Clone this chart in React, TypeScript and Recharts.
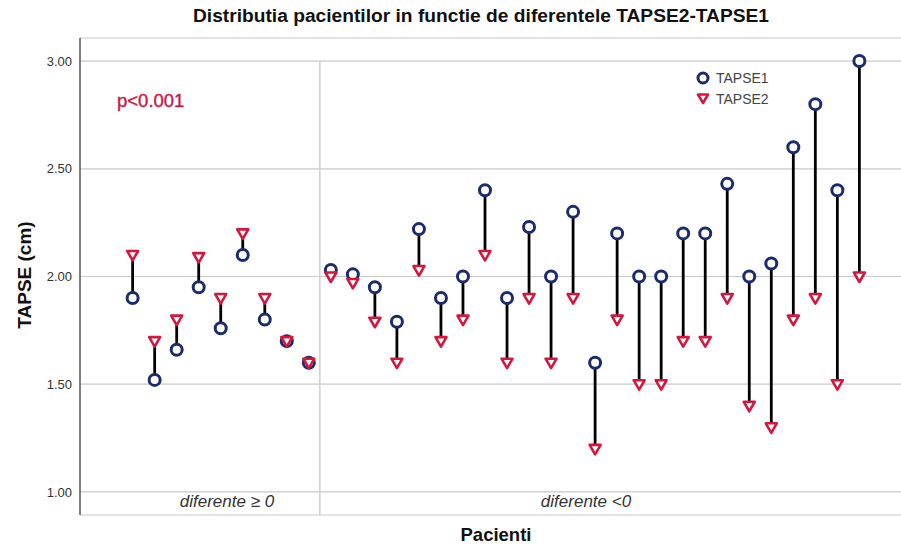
import React from 'react';
import {
    ComposedChart, Scatter, ErrorBar, XAxis, YAxis, CartesianGrid, ReferenceLine,
} from 'recharts';

// patient index (1..34), first 9 have TAPSE2 >= TAPSE1
const patients = [
    1, 2, 3, 4, 5, 6, 7, 8, 9, 10, 11, 12, 13, 14, 15, 16, 17,
    18, 19, 20, 21, 22, 23, 24, 25, 26, 27, 28, 29, 30, 31, 32, 33, 34,
];
const tapse1 = [
    1.90, 1.52, 1.66, 1.95, 1.76, 2.10, 1.80, 1.70, 1.60,
    2.03, 2.01, 1.95, 1.79, 2.22, 1.90, 2.00, 2.40, 1.90, 2.23, 2.00, 2.30, 1.60,
    2.20, 2.00, 2.00, 2.20, 2.20, 2.43, 2.00, 2.06, 2.60, 2.80, 2.40, 3.00,
];
const tapse2 = [
    2.10, 1.70, 1.80, 2.09, 1.90, 2.20, 1.90, 1.70, 1.60,
    2.00, 1.97, 1.79, 1.60, 2.03, 1.70, 1.80, 2.10, 1.60, 1.90, 1.60, 1.90, 1.20,
    1.80, 1.50, 1.50, 1.70, 1.70, 1.90, 1.40, 1.30, 1.80, 1.90, 1.50, 2.00,
];
const yTicks = [1.0, 1.5, 2.0, 2.5, 3.0];
const groupSplit = 9.5;

const NAVY = '#1c2b6b';
const RED = '#d3173f';
const FONT = '"Liberation Sans", Arial, sans-serif';

const t1Data = patients.map((p, i) => {
    const d = tapse2[i] - tapse1[i];
    return { x: p, y: tapse1[i], err: d >= 0 ? [0, d] : [-d, 0] };
});
const t2Data = patients.map((p, i) => ({ x: p, y: tapse2[i] }));

const Ring = (props: any) => {
    const { cx, cy } = props;
    if (cx == null || cy == null) return <g />;
    return <circle cx={cx} cy={cy} r={5.5} fill="#fff" stroke={NAVY} strokeWidth={3} />;
};

const DownTri = (props: any) => {
    const { cx, cy } = props;
    if (cx == null || cy == null) return <g />;
    return (
        <polygon
            points={`${cx - 5.5},${cy - 4} ${cx + 5.5},${cy - 4} ${cx},${cy + 5.5}`}
            fill="#fff"
            stroke={RED}
            strokeWidth={2.6}
            strokeLinejoin="round"
        />
    );
};

const Nothing = () => <g />;

export default function App() {
    return (
        <div style={{ position: 'absolute', left: 0, top: 0, width: 901, height: 546, background: '#fff' }}>
            <ComposedChart
                width={901}
                height={546}
                margin={{ top: 38, right: 0, bottom: 31, left: 0 }}
            >
                <CartesianGrid vertical={false} stroke="#c8c8c8" strokeWidth={1.2} />
                <XAxis
                    type="number"
                    dataKey="x"
                    domain={[-1.39, 35.89]}
                    allowDataOverflow
                    tick={false}
                    tickLine={false}
                    height={0}
                    axisLine={{ stroke: '#777', strokeWidth: 1.5 }}
                />
                <YAxis
                    type="number"
                    dataKey="y"
                    domain={[0.893, 3.107]}
                    allowDataOverflow
                    ticks={yTicks}
                    tickFormatter={(v: number) => v.toFixed(2)}
                    tickLine={false}
                    width={80}
                    axisLine={{ stroke: '#555', strokeWidth: 1.5 }}
                    tick={{ fontFamily: FONT, fontSize: 13, fill: '#333' }}
                />
                <ReferenceLine
                    segment={[{ x: groupSplit, y: 3.0 }, { x: groupSplit, y: 0.893 }]}
                    stroke="#cfcfcf"
                    strokeWidth={1.5}
                />
                <Scatter data={t1Data} shape={Nothing} isAnimationActive={false} legendType="none">
                    <ErrorBar dataKey="err" direction="y" width={0} stroke="#000" strokeWidth={2.8} />
                </Scatter>
                <Scatter name="TAPSE1" data={t1Data} shape={Ring} isAnimationActive={false} />
                <Scatter name="TAPSE2" data={t2Data} shape={DownTri} isAnimationActive={false} />
            </ComposedChart>
            <svg
                width={901}
                height={546}
                style={{ position: 'absolute', left: 0, top: 0, pointerEvents: 'none' }}
            >
                <text x={481} y={22} textAnchor="middle" fontFamily={FONT} fontSize={19.2} fontWeight="bold" fill="#111">
                    Distributia pacientilor in functie de diferentele TAPSE2-TAPSE1
                </text>
                <text
                    x={31}
                    y={275}
                    transform="rotate(-90 31 275)"
                    textAnchor="middle"
                    fontFamily={FONT}
                    fontSize={19}
                    fontWeight="bold"
                    fill="#111"
                >
                    TAPSE (cm)
                </text>
                <text x={496} y={541} textAnchor="middle" fontFamily={FONT} fontSize={18.5} fontWeight="bold" fill="#111">
                    Pacienti
                </text>
                <text x={117} y={107} fontFamily={FONT} fontSize={18.5} fill="#c8174a" stroke="#c8174a" strokeWidth={0.4}>
                    p&lt;0.001
                </text>
                <text x={227} y={507} textAnchor="middle" fontFamily={FONT} fontSize={17} fontStyle="italic" fill="#333">
                    diferente ≥ 0
                </text>
                <text x={586} y={507} textAnchor="middle" fontFamily={FONT} fontSize={17} fontStyle="italic" fill="#333">
                    diferente &lt;0
                </text>
                {/* legend */}
                <circle cx={703} cy={78} r={5} fill="#fff" stroke={NAVY} strokeWidth={3} />
                <text x={716} y={83} fontFamily={FONT} fontSize={14} fill="#444">TAPSE1</text>
                <polygon points="698,94.5 708,94.5 703,103" fill="#fff" stroke={RED} strokeWidth={2.5} strokeLinejoin="round" />
                <text x={716} y={104} fontFamily={FONT} fontSize={14} fill="#444">TAPSE2</text>
            </svg>
        </div>
    );
}
